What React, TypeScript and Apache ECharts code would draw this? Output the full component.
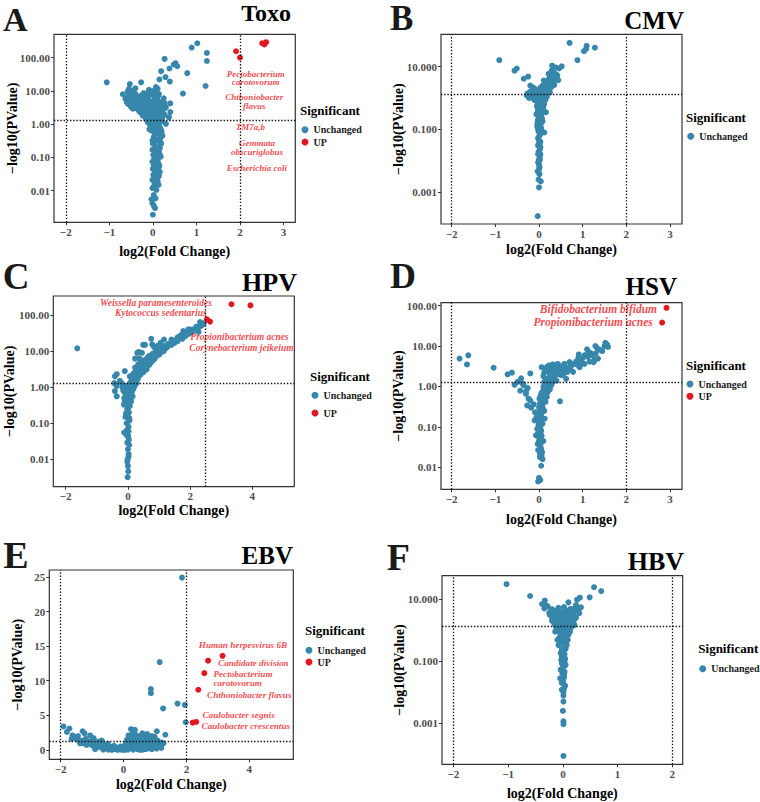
import React, { useEffect, useRef } from 'react';
import * as echarts from 'echarts';

type Pt = [number, number];
type Lab = [number, number, string, string?];

// ---------- DATA: [log2(Fold Change), -log10(PValue)] ----------
const toxoUnchanged: Pt[] = [
  [1.02, 270], [0.89, 200], [1.24, 138], [1.24, 79], [0.27, 91], [0.52, 68], [0.48, 62], [0.56, 55], [0.38, 47], [0.19, 39],
  [0.79, 34], [0.29, 26], [0.15, 22], [0.39, 19], [-1.06, 18], [-0.27, 18], [-0.53, 16], [1.21, 14], [-0.09, 10.7], [0.07, 13],
  [0.11, 11.5], [-0.4, 12], [-0.46, 10.2], [-0.5, 8.7], [-0.69, 7.9], [0.69, 8.3], [-0.57, 6.8], [-0.54, 5.1], [-0.57, 4.1], [-0.44, 4.6],
  [-0.32, 5.8], [-0.27, 7.2], [-0.21, 8.5], [-0.13, 6.5], [-0.36, 3.6], [-0.27, 2.9], [-0.21, 2.0], [-0.17, 1.6], [0.02, 8.1], [0.1, 5.8],
  [0.16, 4.6], [0.27, 4.3], [0.4, 4.2], [0.4, 2.3], [0.37, 1.6], [0.3, 1.02], [-0.05, 4.1], [-0.02, 2.9], [0.06, 2.0], [0.14, 2.6],
  [0.21, 1.6], [-0.13, 2.6], [-0.09, 1.3], [0.02, 1.15], [0.1, 0.91], [0.18, 0.72], [-0.04, 0.65], [0.16, 0.51], [0.02, 0.41], [0.19, 0.26],
  [0.06, 0.21], [0.14, 0.15], [0.01, 0.12], [0.11, 0.083], [0.02, 0.059], [0.15, 0.055], [0.06, 0.042], [0.01, 0.03], [0.1, 0.023], [0.04, 0.017],
  [-0.01, 0.012], [0.08, 0.0105], [0.02, 0.0074], [-0.03, 0.0055], [-0.01, 0.0042], [0.05, 0.003], [0.0, 0.0019],
  [-0.24, 4.6], [-0.3, 3.6], [-0.19, 5.1], [-0.09, 5.1], [0.02, 5.1], [-0.03, 2.3], [0.1, 1.45], [0.16, 1.15], [-0.06, 0.91], [0.19, 0.41],
  [-0.01, 0.32], [0.16, 0.19], [-0.01, 0.17], [0.18, 0.105], [-0.01, 0.074], [0.16, 0.037], [-0.01, 0.021], [0.13, 0.015], [0.06, 0.0059], [0.02, 0.0035],
  [-0.63, 5.8], [-0.55, 11.5], [-0.4, 8.1], [-0.5, 6.2], [-0.45, 3.6], [-0.32, 2.5], [-0.4, 3.1],
  [-0.35, 6.5], [-0.25, 5.5], [-0.15, 4.5], [-0.05, 3.5], [0.05, 3.0], [-0.2, 3.2], [-0.1, 2.2], [0.0, 1.8], [0.08, 1.6], [-0.15, 1.4],
  [0.12, 3.5], [0.2, 2.2], [-0.42, 5.0], [-0.48, 4.0], [-0.38, 4.3], [-0.28, 4.0], [-0.12, 3.8], [0.05, 6.5], [-0.05, 7.5], [0.12, 7.0],
  [0.25, 6.0], [0.3, 3.2], [0.22, 1.2], [0.08, 0.75], [-0.02, 0.8], [0.12, 0.6], [0.05, 0.5], [0.1, 0.33], [0.0, 0.26], [0.08, 0.14],
  [0.12, 0.1], [0.03, 0.09], [0.08, 0.07], [0.0, 0.045], [0.09, 0.035], [0.05, 0.027], [0.11, 0.019], [0.03, 0.014],
  [-0.58, 9.5], [-0.52, 7.5], [-0.46, 6.8], [-0.41, 5.6], [-0.36, 4.9], [-0.31, 4.3], [-0.26, 3.4], [-0.22, 2.7], [-0.18, 2.4], [-0.14, 1.9],
  [-0.11, 1.7], [-0.07, 1.5], [-0.05, 1.2], [-0.6, 4.6], [-0.55, 3.9], [-0.5, 3.3], [-0.46, 2.9], [-0.35, 2.8], [-0.28, 2.2], [-0.23, 1.8],
  [-0.2, 6.0], [-0.16, 7.3], [-0.1, 8.8], [-0.02, 9.8], [0.04, 10.0], [0.09, 9.0], [0.14, 8.0], [0.07, 4.4], [0.0, 3.3], [0.1, 2.8],
  [0.18, 3.0], [0.22, 4.0], [0.04, 2.5], [-0.08, 3.0], [-0.17, 3.9], [-0.33, 5.2], [0.03, 1.4], [0.13, 1.9], [0.2, 1.4], [0.25, 2.8],
  [0.27, 1.9], [-0.12, 1.15], [0.06, 1.0], [0.15, 0.85], [-0.08, 0.7], [0.2, 0.6], [0.09, 0.55], [0.01, 0.6], [0.22, 0.45], [0.14, 0.36],
  [0.06, 0.3], [0.17, 0.3], [0.04, 0.16], [0.12, 0.2], [0.16, 0.12], [0.07, 0.1], [0.13, 0.065], [0.05, 0.075], [0.09, 0.05], [0.12, 0.045],
  [0.06, 0.033], [0.14, 0.028], [0.08, 0.02], [0.03, 0.022],
];
const toxoUp: Pt[] = [[1.91, 155], [2.0, 100], [2.51, 270], [2.56, 250], [2.6, 290]];
const toxoLabels: Lab[] = [
  [2.36, 24, 'Pectobacterium\ncarotovorum'],
  [2.33, 4.8, 'Chthoniobacter\nflavus'],
  [2.24, 0.8, 'TM7a,b'],
  [2.39, 0.2, 'Gemmata\nobscuriglobus'],
  [2.39, 0.047, 'Escherichia coli'],
];

const cmvUnchanged: Pt[] = [
  [0.7, 57], [1.28, 40], [1.09, 46], [1.08, 37], [1.03, 31], [0.88, 16], [-0.91, 16], [-0.51, 8.7], [-0.56, 7.4], [0.3, 10.8],
  [0.39, 9.3], [0.46, 8.7], [0.52, 10.2], [0.3, 6.8], [-0.25, 4.8], [-0.35, 4.1], [-0.2, 2.5], [-0.15, 2.2], [-0.25, 1.4],
  [0.42, 5.2], [0.38, 4.1], [0.34, 3.6], [0.27, 3.2], [0.23, 4.1], [0.19, 2.8], [0.15, 2.2], [0.11, 3.6], [0.08, 2.5], [0.3, 2.8],
  [0.44, 3.7], [0.27, 4.8], [0.14, 1.7], [0.08, 1.5], [-0.03, 1.7], [-0.11, 1.4], [-0.18, 1.3], [-0.27, 1.35], [-0.07, 1.05], [0.0, 1.17],
  [0.08, 0.93], [-0.03, 0.72], [0.04, 0.58], [0.12, 0.65], [0.16, 0.35], [-0.02, 0.45], [0.01, 0.28], [-0.03, 0.19], [0.04, 0.148], [0.12, 0.079],
  [-0.02, 0.1], [0.01, 0.063], [0.0, 0.044], [0.03, 0.027], [-0.01, 0.019], [0.02, 0.013], [-0.02, 0.0089], [0.01, 0.0062], [-0.03, 0.0046], [0.01, 0.0037],
  [-0.01, 0.0025], [0.04, 0.0022], [0.0, 0.0014], [-0.03, 0.00017],
  [-0.15, 1.5], [-0.22, 1.17], [0.13, 1.17], [0.18, 2.2], [0.08, 1.7], [0.22, 5.9], [0.29, 7.4], [0.35, 6.2],
  [0.05, 0.8], [-0.05, 0.9], [0.1, 0.5], [-0.05, 0.55], [0.05, 0.38], [-0.06, 0.3], [0.07, 0.22], [-0.04, 0.12], [0.06, 0.09], [0.02, 0.035],
  [-0.02, 0.03], [0.03, 0.016], [0.0, 0.011], [0.06, 0.3], [0.1, 1.3], [0.2, 1.9], [0.25, 2.4], [0.35, 2.6], [-0.1, 2.0], [0.03, 2.1],
  [0.15, 3.0], [0.2, 3.6], [0.3, 5.0], [0.4, 4.6], [0.18, 1.1], [0.25, 1.5],
  [0.0, 1.3], [0.05, 1.5], [0.1, 1.9], [0.15, 2.6], [0.2, 3.1], [0.25, 3.6], [0.3, 4.3], [0.35, 4.9], [0.4, 5.6], [0.28, 2.2],
  [0.22, 1.6], [0.18, 1.4], [0.12, 1.05], [0.06, 1.0], [0.02, 0.85], [-0.04, 1.25], [-0.09, 1.6], [-0.13, 1.9], [-0.2, 1.6], [-0.28, 1.2],
  [-0.23, 1.0], [-0.15, 1.0], [-0.1, 0.85], [0.1, 0.75], [0.15, 0.9], [0.08, 0.62], [-0.01, 0.62], [0.06, 0.48], [-0.03, 0.38], [0.09, 0.4],
  [0.04, 0.26], [-0.01, 0.22], [0.08, 0.18], [0.02, 0.16], [-0.04, 0.15], [0.05, 0.11], [-0.01, 0.085], [0.03, 0.07], [-0.02, 0.052], [0.03, 0.04],
  [-0.01, 0.033], [0.02, 0.023], [-0.02, 0.016], [0.02, 0.0105], [0.0, 0.0075], [0.0, 0.0053],
];
const cmvUp: Pt[] = [];
const cmvLabels: Lab[] = [];

const hpvUnchanged: Pt[] = [
  [-1.63, 12], [2.32, 64], [2.44, 59], [2.27, 34], [2.1, 40], [1.94, 40], [1.78, 36], [1.73, 29], [1.62, 23], [1.51, 19],
  [1.35, 15.5], [1.24, 12.4], [1.08, 10], [0.94, 8.1], [0.81, 6.9], [0.71, 5.6], [0.6, 4.8], [0.49, 4.0], [0.41, 3.5], [0.3, 2.8],
  [0.23, 2.0], [0.17, 1.5], [0.75, 22], [1.16, 21], [0.49, 15], [0.55, 15], [0.78, 15.5], [0.84, 13], [0.23, 6.2], [0.36, 6.3],
  [-0.1, 2.8], [-0.36, 2.3], [-0.42, 2.0], [-0.44, 1.3], [-0.36, 1.07], [-0.42, 0.78], [-0.36, 0.56], [1.4, 21], [1.67, 26], [1.83, 29],
  [1.99, 40], [0.06, 1.3], [0.01, 0.87], [-0.1, 0.71], [-0.04, 0.46], [-0.13, 0.33], [0.01, 0.27], [-0.06, 0.19], [0.04, 0.14], [-0.04, 0.1],
  [-0.12, 0.055], [0.01, 0.045], [-0.02, 0.029], [0.0, 0.019], [0.02, 0.014], [-0.01, 0.01], [0.0, 0.0065], [0.01, 0.0046], [-0.01, 0.0032],
  [0.12, 1.8], [0.28, 2.0], [0.44, 2.5], [0.6, 3.1], [0.17, 1.07], [0.09, 0.78], [0.15, 0.56], [0.04, 0.37], [0.33, 4.3], [0.23, 3.5],
  [0.71, 7.3], [0.92, 10], [0.47, 5.6], [0.06, 2.0], [-0.2, 1.3], [-0.17, 0.98], [-0.26, 1.5], [0.04, 0.59],
  [0.3, 3.3], [0.4, 4.5], [0.5, 5.0], [0.6, 6.0], [0.7, 7.5], [0.8, 8.5], [0.9, 10.5], [1.0, 11.5], [1.1, 12.5], [1.2, 14],
  [1.3, 16], [1.45, 18], [1.55, 21], [1.7, 25], [1.9, 32], [2.0, 36], [2.2, 48], [0.35, 2.2], [0.5, 3.0], [0.65, 4.0],
  [0.85, 6.0], [1.0, 8.0], [0.2, 2.5], [0.15, 2.2], [0.1, 1.4], [0.25, 1.6], [0.55, 3.6], [0.75, 5.0], [0.12, 0.9], [0.05, 0.65],
  [0.08, 0.45], [-0.05, 0.6], [-0.02, 0.25], [0.03, 0.2], [-0.08, 0.15], [0.02, 0.08], [-0.03, 0.065], [0.03, 0.035], [-0.1, 0.4], [-0.15, 0.8],
  [0.3, 9.0], [0.35, 9.5], [0.45, 9.0], [0.95, 14], [1.05, 17], [1.4, 17], [1.6, 24],
  [0.0, 1.0], [0.05, 1.1], [0.1, 1.2], [0.15, 1.3], [0.2, 1.6], [0.25, 1.9], [0.3, 2.3], [0.35, 2.6], [0.4, 3.0], [0.45, 3.3],
  [0.5, 3.7], [0.55, 4.2], [0.6, 4.5], [0.65, 5.0], [0.7, 6.0], [0.75, 6.5], [0.85, 7.5], [0.9, 8.5], [1.0, 9.5], [1.1, 11],
  [1.15, 12], [1.25, 13.5], [1.3, 14], [1.4, 15], [1.5, 17], [1.6, 19], [1.75, 22], [1.85, 26], [1.95, 30], [2.05, 33],
  [2.15, 38], [2.25, 42], [2.35, 50], [2.4, 55], [0.02, 0.5], [-0.04, 0.8], [0.08, 0.7], [0.13, 0.75], [0.18, 0.9], [0.22, 1.1],
  [0.28, 1.3], [0.32, 1.7], [-0.08, 1.1], [-0.12, 0.5], [0.06, 0.3], [0.1, 0.4], [-0.06, 0.35], [0.0, 0.15], [0.05, 0.12], [-0.03, 0.045],
  [0.02, 0.06], [0.04, 0.025], [0.02, 0.012], [-0.02, 0.0085], [0.4, 2.2], [0.5, 2.6], [0.6, 3.5], [0.7, 4.3], [0.8, 5.5], [0.9, 7.0],
  [1.05, 9.0], [1.15, 10], [0.45, 4.8], [0.55, 5.5], [0.65, 7.0], [0.38, 3.8], [0.28, 3.0],
];
const hpvUp: Pt[] = [[3.33, 200], [3.94, 186], [2.54, 76], [2.64, 66]];
const hpvLabels: Lab[] = [
  [0.9, 219, 'Weissella paramesenteroides'],
  [1.06, 112, 'Kytococcus sedentarius'],
  [3.59, 24, 'Propionibacterium acnes'],
  [3.65, 12.6, 'Corynebacterium jeikeium'],
];

const hsvUnchanged: Pt[] = [
  [-1.82, 4.9], [-1.62, 5.9], [-1.65, 3.5], [-1.04, 2.9], [-0.72, 2.0], [-0.62, 2.2], [-0.2, 2.1], [-0.41, 1.6], [-0.49, 1.3], [-0.56, 1.1],
  [-0.43, 0.79], [-0.3, 0.66], [-0.24, 0.5], [-0.27, 0.34], [-0.18, 0.3], [-0.09, 0.23], [-0.35, 1.07], [-0.26, 0.91], [-0.03, 0.19], [-0.1, 0.145],
  [-0.01, 0.11], [0.05, 0.081], [-0.07, 0.062], [0.01, 0.051], [-0.03, 0.038], [0.05, 0.029], [0.02, 0.018], [0.08, 0.016], [0.05, 0.011], [0.0, 0.0055],
  [0.03, 0.0049], [-0.02, 0.0045],
  [0.22, 3.3], [0.32, 3.5], [0.43, 3.6], [0.58, 3.6], [0.74, 3.3], [0.85, 4.1], [0.97, 4.5], [0.91, 6.2], [1.12, 5.4], [1.1, 8.3],
  [1.23, 5.9], [1.29, 10], [1.33, 8.9], [1.52, 12], [1.58, 9.5], [1.56, 10.8], [1.27, 4.5], [1.04, 3.6], [0.78, 2.3], [0.62, 1.55],
  [0.51, 1.9], [0.35, 1.55], [0.28, 1.07], [0.2, 0.72], [0.13, 0.6], [0.19, 1.55], [0.24, 2.3], [0.32, 1.9], [0.39, 2.5], [0.47, 2.8],
  [0.48, 0.43], [0.15, 0.42], [0.09, 0.28], [0.16, 0.89], [0.05, 0.42], [0.13, 0.16], [0.01, 0.5], [0.66, 2.8], [0.93, 3.0], [1.16, 4.1],
  [1.35, 4.9],
  [0.2, 2.8], [0.25, 2.0], [0.3, 2.6], [0.35, 2.2], [0.4, 3.0], [0.45, 2.2], [0.55, 2.4], [0.6, 3.0], [0.7, 2.6], [0.8, 3.6],
  [0.22, 1.3], [0.28, 1.6], [0.15, 1.1], [0.1, 0.8], [0.18, 0.55], [0.08, 0.35], [0.12, 0.25], [0.05, 0.2], [0.02, 0.14], [0.08, 0.12],
  [-0.04, 0.09], [0.06, 0.06], [0.1, 0.045], [0.03, 0.035], [0.07, 0.024], [-0.02, 0.027], [0.06, 3.0], [-0.38, 1.2], [-0.3, 0.75], [-0.2, 0.45],
  [-0.12, 0.36], [0.0, 0.3], [0.04, 0.6], [0.3, 1.2], [0.4, 1.4], [1.0, 5.0], [1.2, 6.5], [1.45, 7.5], [0.95, 3.5],
  [0.12, 2.2], [0.15, 2.6], [0.18, 3.0], [0.25, 3.3], [0.28, 2.9], [0.33, 2.6], [0.36, 3.2], [0.42, 2.0], [0.48, 2.3], [0.52, 3.1],
  [0.56, 2.0], [0.65, 2.3], [0.72, 3.0], [0.88, 3.4], [0.1, 1.8], [0.12, 1.3], [0.18, 1.2], [0.24, 1.4], [0.26, 1.8], [0.1, 1.0],
  [0.14, 0.8], [0.2, 0.95], [0.25, 0.85], [0.06, 0.7], [0.08, 0.55], [0.12, 0.45], [0.16, 0.65], [0.02, 0.38], [0.05, 0.25], [-0.02, 0.22],
  [0.04, 0.16], [-0.06, 0.17], [0.0, 0.13], [0.03, 0.1], [-0.02, 0.07], [0.04, 0.065], [0.0, 0.045], [0.04, 0.04], [0.02, 0.022], [0.06, 0.02],
  [1.05, 6.0], [1.15, 7.0], [1.3, 6.5], [1.4, 8.0], [1.5, 10], [1.25, 4.0], [0.9, 5.0], [0.7, 4.0],
];
const hsvUp: Pt[] = [[2.92, 88], [2.82, 38]];
const hsvLabels: Lab[] = [
  [1.36, 80.5, 'Bifidobacterium bifidum'],
  [1.24, 39, 'Propionibacterium acnes'],
];

const ebvUnchanged: Pt[] = [
  [1.86, 24.9], [1.15, 12.7], [0.87, 8.8], [0.87, 8.2], [1.26, 6.0], [1.72, 6.7], [1.95, 6.5], [1.98, 4.0], [1.06, 2.7], [1.33, 2.2],
  [-1.91, 3.4], [-1.72, 3.1], [-1.62, 2.1], [-1.48, 1.5], [-1.3, 2.7], [-1.24, 2.4], [-1.06, 2.1], [-0.95, 1.7], [-1.27, 0.96], [-1.11, 1.2],
  [-0.85, 0.96], [-0.69, 1.35], [-0.58, 0.72], [-0.42, 0.48], [-0.27, 0.1], [-0.11, 0.24], [0.03, 0.0], [0.16, 0.48], [0.24, 3.0], [0.32, 2.7],
  [0.16, 2.1], [0.39, 2.2], [0.53, 2.0], [0.69, 2.1], [0.8, 1.7], [0.11, 1.45], [0.27, 1.2], [0.42, 0.96], [0.58, 0.72], [0.74, 0.58],
  [0.9, 1.06], [1.01, 0.48], [1.11, 0.96], [1.22, 1.06], [0.37, 0.24], [0.53, 0.0], [0.69, 0.1], [0.85, 0.24], [-0.16, 0.05], [-0.48, 0.05],
  [-0.74, 0.39], [-1.01, 0.72], [-1.17, 0.72], [-1.38, 0.96], [-0.9, 0.1], [-0.64, 0.05], [-0.37, 0.02], [-0.05, 0.02], [0.14, 0.05], [0.21, 1.7],
  [0.35, 1.5], [0.48, 1.45], [0.64, 1.35], [0.8, 0.96], [0.99, 1.9], [1.09, 1.35], [1.27, 0.96], [-1.54, 1.8], [-1.33, 1.35],
  [-1.8, 2.6], [-1.65, 1.6], [-1.45, 2.0], [-1.35, 1.0], [-1.2, 1.6], [-1.15, 1.0], [-1.0, 1.3], [-0.95, 0.6], [-0.8, 0.6], [-0.8, 1.2],
  [-0.7, 0.8], [-0.62, 0.3], [-0.55, 0.4], [-0.5, 0.9], [-0.45, 0.2], [-0.35, 0.3], [-0.3, 0.6], [-0.22, 0.35], [-0.2, 0.05], [-0.1, 0.5],
  [-0.05, 0.15], [0.0, 0.4], [0.05, 0.7], [0.1, 0.2], [0.08, 1.0], [0.2, 0.9], [0.22, 0.3], [0.3, 0.6], [0.3, 0.05], [0.35, 1.0],
  [0.4, 0.5], [0.45, 0.1], [0.45, 1.8], [0.5, 1.2], [0.55, 0.4], [0.6, 1.0], [0.6, 0.05], [0.65, 0.6], [0.7, 1.6], [0.75, 0.2],
  [0.78, 1.2], [0.85, 0.6], [0.9, 0.1], [0.92, 1.5], [0.95, 0.4], [1.0, 1.0], [1.05, 0.2], [1.15, 0.5], [1.2, 0.3], [0.28, 2.3],
  [0.36, 2.9], [0.6, 2.4], [0.75, 2.3], [0.9, 2.0],
];
const ebvUp: Pt[] = [[3.15, 13.6], [2.69, 12.9], [2.57, 11.1], [2.38, 8.7], [2.2, 3.95], [2.31, 4.05]];
const ebvLabels: Lab[] = [
  [3.8, 15.2, 'Human herpesvirus 6B'],
  [4.13, 12.6, 'Candidate division'],
  [2.86, 10.3, 'Pectobacterium\ncarotovorum', 'left'],
  [4.0, 7.95, 'Chthoniobacter flavus'],
  [3.66, 5.06, 'Caulobacter segnis'],
  [3.89, 3.47, 'Caulobacter crescentus'],
];

const hbvUnchanged: Pt[] = [
  [-1.03, 30], [-0.6, 12.5], [0.57, 24], [0.7, 18], [0.49, 11.3], [0.31, 11], [0.26, 9.5], [0.1, 7.8], [0.33, 5.4], [0.3, 5.0],
  [-0.33, 8.9], [-0.38, 6.9], [-0.3, 6.1], [-0.34, 5.0], [-0.2, 4.7], [0.04, 4.6], [0.18, 4.4], [0.3, 3.5], [0.24, 2.5], [-0.24, 3.1],
  [-0.13, 3.5], [-0.07, 2.7], [0.09, 3.1], [0.15, 2.1], [0.21, 1.45], [-0.16, 1.66], [-0.1, 1.86], [0.0, 2.1], [0.05, 1.45], [-0.04, 1.15],
  [-0.14, 0.89], [0.13, 0.89], [0.02, 0.69], [-0.07, 0.55], [0.09, 0.48], [-0.08, 0.33], [0.02, 0.26], [-0.04, 0.18], [0.04, 0.12], [-0.02, 0.085],
  [-0.05, 0.028], [0.02, 0.036], [0.01, 0.019], [-0.02, 0.012], [0.02, 0.013], [0.01, 0.0078], [0.01, 0.005], [0.0, 0.0025], [0.01, 0.00115], [0.01, 0.00093],
  [0.01, 0.000089], [0.05, 0.076], [-0.04, 0.053], [0.0, 0.2], [0.07, 0.33], [-0.1, 0.48], [-0.05, 0.79], [0.18, 3.2], [-0.19, 2.4], [0.24, 6.4],
  [-0.22, 4.0], [-0.28, 5.8], [-0.15, 2.6], [-0.08, 1.3], [0.08, 1.9], [0.12, 2.6], [0.15, 1.2], [-0.02, 1.6], [0.03, 0.95], [-0.1, 1.1],
  [0.06, 0.6], [-0.03, 0.4], [0.05, 0.25], [-0.02, 0.14], [0.03, 0.1], [0.0, 0.06], [0.03, 0.045], [0.0, 0.024], [0.04, 0.016], [-0.11, 2.2],
  [0.2, 2.0], [0.1, 1.6], [0.25, 3.9], [-0.25, 3.6],
  [-0.18, 3.8], [-0.12, 4.2], [-0.06, 4.0], [0.0, 3.8], [0.06, 4.0], [0.12, 3.6], [0.2, 2.8], [-0.2, 2.0], [-0.14, 1.4], [-0.06, 1.9],
  [0.04, 2.4], [0.1, 2.2], [0.16, 1.7], [-0.12, 1.2], [-0.02, 1.25], [0.08, 1.15], [0.12, 1.35], [-0.08, 0.95], [0.06, 0.8], [0.1, 0.7],
  [-0.04, 0.65], [0.0, 0.5], [0.06, 0.42], [-0.05, 0.38], [0.04, 0.3], [-0.02, 0.24], [0.03, 0.17], [-0.03, 0.11], [0.02, 0.07], [-0.01, 0.04],
  [0.02, 0.03], [-0.02, 0.02], [0.01, 0.01], [-0.05, 3.0], [0.05, 2.8], [-0.16, 3.2], [0.14, 4.8], [-0.08, 5.2], [0.02, 5.5], [0.22, 5.2],
];
const hbvUp: Pt[] = [];
const hbvLabels: Lab[] = [];

// tick labels
const xTicks5 = [-2, -1, 0, 1, 2, 3];
const xTicksEven = [-2, 0, 2, 4];
const xTicks4 = [-2, -1, 0, 1, 2];
const yTicksDecade = [0.01, 0.1, 1, 10, 100];
const yTicksTwoDecade = [0.001, 0.1, 10];
const yTicksLinear = [0, 5, 10, 15, 20, 25];

const panelLetters = ['A', 'B', 'C', 'D', 'E', 'F'];
const panelTitles = ['Toxo', 'CMV', 'HPV', 'HSV', 'EBV', 'HBV'];
const fcCutoffs = [[-2, 2], [-2, 2], [2.5], [-2, 2], [-2, 2], [-2, 2]];
const pCutoff = 1.3;

// ---------- STYLE / LAYOUT ----------
const SERIF = 'Liberation Serif, Times New Roman, Times, serif';
const BLUE = '#3786AB';
const RED = '#E3171F';
const LABEL_RED = '#F2151B';

interface Panel {
  unchanged: Pt[]; up: Pt[]; labels: Lab[];
  logY: boolean; yTicks: number[]; yDigits: number; xTicks: number[];
  grid: number[]; xLim: number[]; yLim: number[]; xGap: number; yGap: number;
  letter: number[]; title: number[]; sig: number[]; legend: number[]; labelSize: number; labelLH: number;
}

const panels: Panel[] = [
  { unchanged: toxoUnchanged, up: toxoUp, labels: toxoLabels, logY: true, yTicks: yTicksDecade, yDigits: 2, xTicks: xTicks5,
    grid: [54, 34.3, 241.3, 188], xLim: [-2.27, 3.27], yLim: [-2.95, 2.7], xGap: 22, yGap: 35,
    letter: [3, 19, 34], title: [291, 13, 24], sig: [300, 110], legend: [301.5, 124.2, 1.3], labelSize: 9, labelLH: 8.5 },
  { unchanged: cmvUnchanged, up: cmvUp, labels: cmvLabels, logY: true, yTicks: yTicksTwoDecade, yDigits: 3, xTicks: xTicks5,
    grid: [441, 34.3, 241, 189.7], xLim: [-2.245, 3.275], yLim: [-4.02, 2.03], xGap: 18, yGap: 36,
    letter: [390, 18.5, 35], title: [684, 20, 25], sig: [686, 117], legend: [687.2, 130.8, 1.3], labelSize: 9, labelLH: 8.5 },
  { unchanged: hpvUnchanged, up: hpvUp, labels: hpvLabels, logY: true, yTicks: yTicksDecade, yDigits: 2, xTicks: xTicksEven,
    grid: [53.3, 296, 241, 190.7], xLim: [-2.4, 5.35], yLim: [-2.76, 2.53], xGap: 17, yGap: 37,
    letter: [2.7, 276, 37], title: [297, 282, 26], sig: [310, 376], legend: [311.5, 389.8, 6.7], labelSize: 9.5, labelLH: 9.5 },
  { unchanged: hsvUnchanged, up: hsvUp, labels: hsvLabels, logY: true, yTicks: yTicksDecade, yDigits: 2, xTicks: xTicks5,
    grid: [441, 302.7, 241, 186.6], xLim: [-2.245, 3.275], yLim: [-2.54, 2.07], xGap: 23, yGap: 36,
    letter: [390, 276, 36], title: [677, 286, 25], sig: [686, 365.5], legend: [686.5, 378.5, 1.3], labelSize: 11.5, labelLH: 11 },
  { unchanged: ebvUnchanged, up: ebvUp, labels: ebvLabels, logY: false, yTicks: yTicksLinear, yDigits: 0, xTicks: xTicksEven,
    grid: [49.3, 570, 244, 189.3], xLim: [-2.36, 5.4], yLim: [-1.35, 26.0], xGap: 18.5, yGap: 25,
    letter: [3.3, 555, 38], title: [293, 555, 25], sig: [305, 630.5], legend: [305.5, 644.8, 0.7], labelSize: 9.2, labelLH: 8.5 },
  { unchanged: hbvUnchanged, up: hbvUp, labels: hbvLabels, logY: true, yTicks: yTicksTwoDecade, yDigits: 3, xTicks: xTicks4,
    grid: [442, 575.7, 240.7, 188.6], xLim: [-2.21, 2.19], yLim: [-4.32, 1.75], xGap: 22, yGap: 36,
    letter: [386.7, 556.7, 38], title: [684, 561, 26], sig: [698.3, 648.5], legend: [699.2, 663.2, 0], labelSize: 9, labelLH: 8.5 },
];

const fmtX = (v: number) => (v < 0 ? '\u2212' + Math.abs(v) : String(v));

function buildOption() {
  const grid: any[] = [];
  const xAxis: any[] = [];
  const yAxis: any[] = [];
  const legend: any[] = [];
  const series: any[] = [];
  const elements: any[] = [];

  panels.forEach((p, i) => {
    const ty = (v: number) => (p.logY ? Math.log10(v) : v);
    grid.push({
      left: p.grid[0], top: p.grid[1], width: p.grid[2], height: p.grid[3],
      show: true, borderColor: '#333', borderWidth: 1.2, backgroundColor: 'transparent',
      containLabel: false, outerBoundsMode: 'none',
    });
    const labelStyle = { color: '#4D4D4D', fontWeight: 'bold', fontSize: 11, fontFamily: SERIF };
    const nameStyle = { color: '#000', fontWeight: 'bold', fontSize: 14, fontFamily: SERIF };
    xAxis.push({
      gridIndex: i, type: 'value', min: p.xLim[0], max: p.xLim[1],
      splitLine: { show: false },
      axisLine: { show: false, onZero: false },
      axisTick: { show: true, length: 3, customValues: p.xTicks, lineStyle: { color: '#333', width: 1 } },
      axisLabel: { customValues: p.xTicks, formatter: fmtX, margin: 4, ...labelStyle },
      name: 'log2(Fold Change)', nameLocation: 'middle', nameGap: p.xGap, nameTextStyle: nameStyle,
      nameMoveOverlap: false,
    });
    const yVals = p.yTicks.map(ty);
    yAxis.push({
      gridIndex: i, type: 'value', min: p.yLim[0], max: p.yLim[1],
      splitLine: { show: false },
      axisLine: { show: false, onZero: false },
      axisTick: { show: true, length: 3, customValues: yVals, lineStyle: { color: '#333', width: 1 } },
      axisLabel: {
        customValues: yVals, margin: 4, ...labelStyle,
        formatter: (v: number) => (p.logY ? Math.pow(10, v).toFixed(p.yDigits) : String(Math.round(v))),
      },
      name: '\u2212log10(PValue)', nameLocation: 'middle', nameGap: p.yGap, nameTextStyle: nameStyle,
      nameMoveOverlap: false,
    });

    const lineData: any[] = fcCutoffs[i].map((v) => ({ xAxis: v }));
    lineData.push({ yAxis: ty(pCutoff) });

    series.push({
      type: 'scatter', name: 'Unchanged', xAxisIndex: i, yAxisIndex: i,
      data: p.unchanged.map(([x, y]) => [x, ty(y)]),
      symbolSize: 6, itemStyle: { color: BLUE, opacity: 1 }, z: 2, silent: true,
      markLine: {
        silent: true, symbol: 'none', animation: false, label: { show: false },
        lineStyle: { color: '#111', type: [1.4, 1.8], width: 1.3 },
        data: lineData,
      },
    });
    if (p.up.length) {
      series.push({
        type: 'scatter', name: 'UP', xAxisIndex: i, yAxisIndex: i,
        data: p.up.map(([x, y]) => [x, ty(y)]),
        symbolSize: 6, itemStyle: { color: RED, opacity: 1 }, z: 3, silent: true,
      });
    }
    if (p.labels.length) {
      series.push({
        type: 'scatter', name: 'labels' + i, xAxisIndex: i, yAxisIndex: i,
        symbolSize: 1, itemStyle: { color: 'rgba(0,0,0,0)' }, z: 4, silent: true,
        data: p.labels.map(([x, y, t, align]) => ({
          value: [x, ty(y)], name: t,
          label: align ? { align } : undefined,
        })),
        label: {
          show: true, position: 'inside', formatter: '{b}', color: LABEL_RED,
          fontFamily: SERIF, fontStyle: 'italic', fontWeight: 'bold', fontSize: p.labelSize,
          lineHeight: p.labelLH,
        },
      });
    }

    legend.push({
      orient: 'vertical', left: p.legend[0], top: p.legend[1], itemGap: p.legend[2],
      icon: 'circle', itemWidth: 7, itemHeight: 7, padding: 0, selectedMode: false,
      data: p.up.length ? ['Unchanged', 'UP'] : ['Unchanged'],
      textStyle: { color: '#1a1a1a', fontWeight: 'bold', fontSize: 10, fontFamily: SERIF, lineHeight: 11 },
    });

    elements.push({
      type: 'text', x: p.letter[0], y: p.letter[1], silent: true,
      style: { text: panelLetters[i], fontSize: p.letter[2], lineHeight: Math.round(p.letter[2] * 0.8), fontWeight: 'bold', fontFamily: SERIF, fill: '#1a1a1a', align: 'left', verticalAlign: 'middle' },
    });
    elements.push({
      type: 'text', x: p.title[0], y: p.title[1], silent: true,
      style: { text: panelTitles[i], fontSize: p.title[2], lineHeight: Math.round(p.title[2] * 0.85), fontWeight: 'bold', fontFamily: SERIF, fill: '#000', align: 'right', verticalAlign: 'middle' },
    });
    elements.push({
      type: 'text', x: p.sig[0], y: p.sig[1], silent: true,
      style: { text: 'Significant', fontSize: 13, fontWeight: 'bold', fontFamily: SERIF, fill: '#000', align: 'left', verticalAlign: 'middle' },
    });
  });

  return {
    animation: false,
    backgroundColor: '#fff',
    grid, xAxis, yAxis, legend, series,
    graphic: { elements },
  };
}

export default function App() {
  const ref = useRef<HTMLDivElement>(null);
  useEffect(() => {
    const chart = echarts.init(ref.current as HTMLDivElement, null, { renderer: 'svg' });
    chart.setOption(buildOption() as any);
    return () => chart.dispose();
  }, []);
  return (
    <div
      ref={ref}
      style={{ position: 'absolute', left: 0, top: 0, width: 760, height: 802, background: '#fff' }}
    />
  );
}
